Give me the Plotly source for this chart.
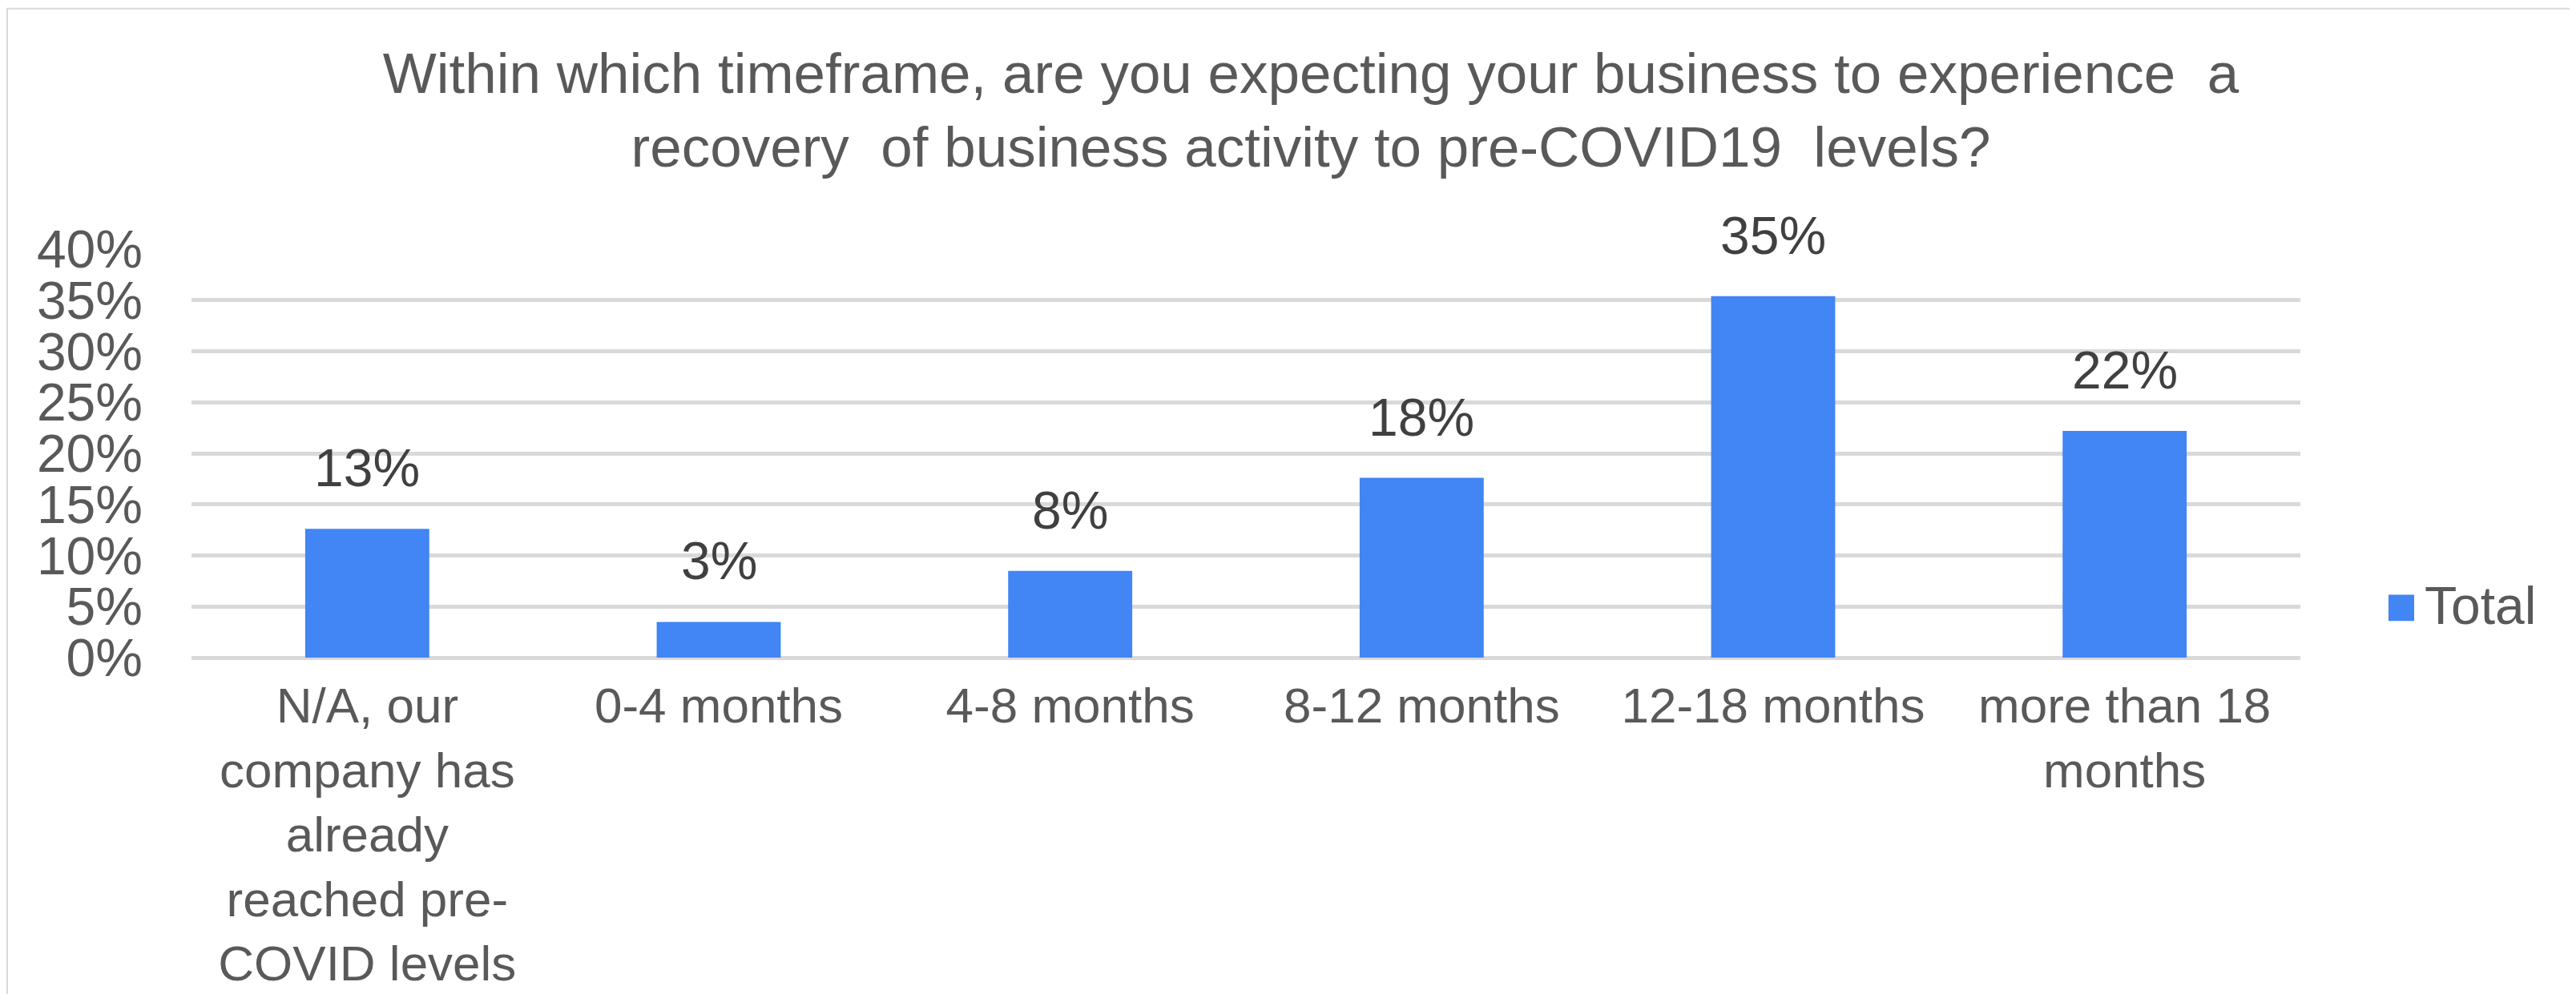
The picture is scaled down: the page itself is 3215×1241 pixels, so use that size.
"""Recovery timeframe survey chart."""

import plotly.graph_objects as go

# --- data -------------------------------------------------------------------
categories = [
    "N/A, our<br>company has<br>already<br>reached pre-<br>COVID levels",
    "0-4 months",
    "4-8 months",
    "8-12 months",
    "12-18 months",
    "more than 18<br>months",
]
share_total = [0.126, 0.035, 0.085, 0.176, 0.354, 0.222]
value_labels = ["13%", "3%", "8%", "18%", "35%", "22%"]
y_ticks = [0.0, 0.05, 0.10, 0.15, 0.20, 0.25, 0.30, 0.35, 0.40]
series_name = "Total"

TITLE = (
    "Within which timeframe, are you expecting your business to experience\u00a0 a<br>"
    "recovery\u00a0 of business activity to pre-COVID19\u00a0 levels?"
)

# --- styling ----------------------------------------------------------------
W, H = 3215, 1241
ML, MR, MT, MB = 231, 352, 303, 425
PLOT_W, PLOT_H = W - ML - MR, H - MT - MB

BAR_COLOR = "#4285F4"
GRID_COLOR = "#D9D9D9"
TEXT_COLOR = "#595959"
LABEL_COLOR = "#404040"
FONT = "Liberation Sans, Arial, sans-serif"


def px_x(x):
    """Figure pixel x -> paper coordinate."""
    return (x - ML) / PLOT_W


def px_y(y):
    """Figure pixel y (from top) -> paper coordinate."""
    return (H - MB - y) / PLOT_H


fig = go.Figure()
fig.add_trace(
    go.Bar(
        x=categories,
        y=share_total,
        name=series_name,
        marker=dict(color=BAR_COLOR, line=dict(width=0)),
        showlegend=False,
        hoverinfo="x+y",
    )
)

# data labels above bars
for cat, val, lab in zip(categories, share_total, value_labels):
    fig.add_annotation(
        x=cat, y=val, text=lab, showarrow=False,
        yanchor="middle", yshift=76,
        font=dict(family=FONT, size=66, color=LABEL_COLOR),
    )

# legend (drawn by hand so the swatch matches the original size)
fig.add_shape(
    type="rect", xref="paper", yref="paper",
    x0=px_x(2973), x1=px_x(3005), y0=px_y(770), y1=px_y(737),
    fillcolor=BAR_COLOR, line=dict(width=0),
)
fig.add_annotation(
    xref="paper", yref="paper", x=px_x(3016), y=px_y(751),
    xanchor="left", yanchor="middle", text=series_name, showarrow=False,
    font=dict(family=FONT, size=66, color=TEXT_COLOR),
)

# outer chart border
fig.add_shape(
    type="rect", xref="paper", yref="paper",
    x0=px_x(1), x1=px_x(W - 1), y0=px_y(H - 1), y1=px_y(1),
    line=dict(color=GRID_COLOR, width=2), fillcolor="rgba(0,0,0,0)",
    layer="below",
)

fig.update_layout(
    width=W,
    height=H,
    margin=dict(l=ML, r=MR, t=MT, b=MB, pad=0),
    paper_bgcolor="white",
    plot_bgcolor="white",
    bargap=0.647,
    showlegend=False,
    title=dict(
        text=TITLE,
        x=1628 / W, xref="container", xanchor="center",
        y=1 - 108 / H, yref="container", yanchor="middle",
        font=dict(family=FONT, size=71, color=TEXT_COLOR),
    ),
    font=dict(family=FONT, color=TEXT_COLOR),
)

fig.update_yaxes(
    range=[0, 0.4],
    tickvals=y_ticks,
    tickformat=".0%",
    showgrid=True, gridcolor=GRID_COLOR, gridwidth=4.5,
    zeroline=True, zerolinecolor=GRID_COLOR, zerolinewidth=4.5,
    showline=False, ticks="", ticklabelstandoff=60,
    tickfont=dict(family=FONT, size=66, color=TEXT_COLOR),
)
fig.update_xaxes(
    showgrid=False, showline=False, ticks="", ticklabelstandoff=18,
    tickfont=dict(family=FONT, size=62, color=TEXT_COLOR),
)

fig.write_html("out.html")
